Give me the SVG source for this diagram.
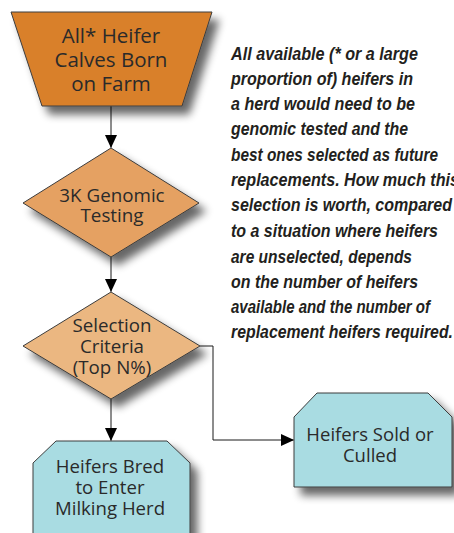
<svg xmlns="http://www.w3.org/2000/svg" width="454" height="533" viewBox="0 0 454 533">
<style>
.node{stroke:#3c3c3c;stroke-width:1;filter:url(#sh)}
.lbl{font-family:"Open Sans","Noto Sans",sans-serif;fill:#2a2a2a;text-anchor:middle}
.conn{stroke:#1a1a1a;stroke-width:1;fill:none}
.note{font-family:"Liberation Sans",Arial,sans-serif;font-weight:bold;font-style:italic;font-size:17.5px;fill:#231f20}
</style>
<defs>
<filter id="sh" x="-20%" y="-20%" width="150%" height="160%">
<feGaussianBlur in="SourceAlpha" stdDeviation="4"/>
<feOffset dx="7" dy="8" result="b"/>
<feComponentTransfer><feFuncA type="linear" slope="0.6"/></feComponentTransfer>
<feMerge><feMergeNode/><feMergeNode in="SourceGraphic"/></feMerge>
</filter>
<marker id="ah" markerUnits="userSpaceOnUse" markerWidth="12" markerHeight="14" refX="13" refY="6" orient="auto">
<path d="M0,0 L13,6 L0,12 Z" fill="#000"/>
</marker>
</defs>
<g id="connectors">
<path class="conn" d="M111,106 V148" marker-end="url(#ah)"/>
<path class="conn" d="M111,257 V292" marker-end="url(#ah)"/>
<path class="conn" d="M111,399 V441" marker-end="url(#ah)"/>
<path class="conn" d="M200,346 H213 V440 H294" stroke="#555" marker-end="url(#ah)"/>
</g>
<g id="n1">
<path class="node" d="M11,12 H212 L182,106 H42 Z" fill="#d9802c"/>
<text class="lbl" font-size="20.5" x="111" y="43">All* Heifer</text>
<text class="lbl" font-size="20.5" x="111" y="67">Calves Born</text>
<text class="lbl" font-size="20.5" x="111" y="91">on Farm</text>
</g>
<g id="n2">
<path class="node" d="M111,148 L199,203 L111,257 L23,203 Z" fill="#e5a162"/>
<text class="lbl" font-size="18.8" x="112" y="202">3K Genomic</text>
<text class="lbl" font-size="18.8" x="112" y="222">Testing</text>
</g>
<g id="n3">
<path class="node" d="M111,292 L200,346 L111,399 L23,346 Z" fill="#ebb781"/>
<text class="lbl" font-size="18.7" x="112" y="332">Selection</text>
<text class="lbl" font-size="18.7" x="112" y="353">Criteria</text>
<text class="lbl" font-size="18.7" x="112" y="374">(Top N%)</text>
</g>
<g id="n4">
<path class="node" d="M56,441 H167 L190,463 V545 H33 V463 Z" fill="#a9dce2"/>
<text class="lbl" font-size="18.6" x="110" y="473">Heifers Bred</text>
<text class="lbl" font-size="18.6" x="110" y="494">to Enter</text>
<text class="lbl" font-size="18.6" x="110" y="515">Milking Herd</text>
</g>
<g id="n5">
<path class="node" d="M317,393 H428 L452,417 V487 H294 V417 Z" fill="#a9dce2"/>
<text class="lbl" font-size="18.5" x="370" y="441">Heifers Sold or</text>
<text class="lbl" font-size="18.5" x="370" y="462">Culled</text>
</g>
<g id="note">
<text class="note" x="231" y="60" textLength="187" lengthAdjust="spacingAndGlyphs">All available (* or a large</text>
<text class="note" x="231" y="85" textLength="182" lengthAdjust="spacingAndGlyphs">proportion of) heifers in</text>
<text class="note" x="231" y="110" textLength="184" lengthAdjust="spacingAndGlyphs">a herd would need to be</text>
<text class="note" x="231" y="135" textLength="177" lengthAdjust="spacingAndGlyphs">genomic tested and the</text>
<text class="note" x="231" y="161" textLength="207" lengthAdjust="spacingAndGlyphs">best ones selected as future</text>
<text class="note" x="231" y="186" textLength="228" lengthAdjust="spacingAndGlyphs">replacements. How much this</text>
<text class="note" x="231" y="211" textLength="221" lengthAdjust="spacingAndGlyphs">selection is worth, compared</text>
<text class="note" x="231" y="237" textLength="207" lengthAdjust="spacingAndGlyphs">to a situation where heifers</text>
<text class="note" x="231" y="263" textLength="181" lengthAdjust="spacingAndGlyphs">are unselected, depends</text>
<text class="note" x="231" y="288" textLength="187" lengthAdjust="spacingAndGlyphs">on the number of heifers</text>
<text class="note" x="231" y="313" textLength="199" lengthAdjust="spacingAndGlyphs">available and the number of</text>
<text class="note" x="231" y="338" textLength="222" lengthAdjust="spacingAndGlyphs">replacement heifers required.</text>
</g>
</svg>
